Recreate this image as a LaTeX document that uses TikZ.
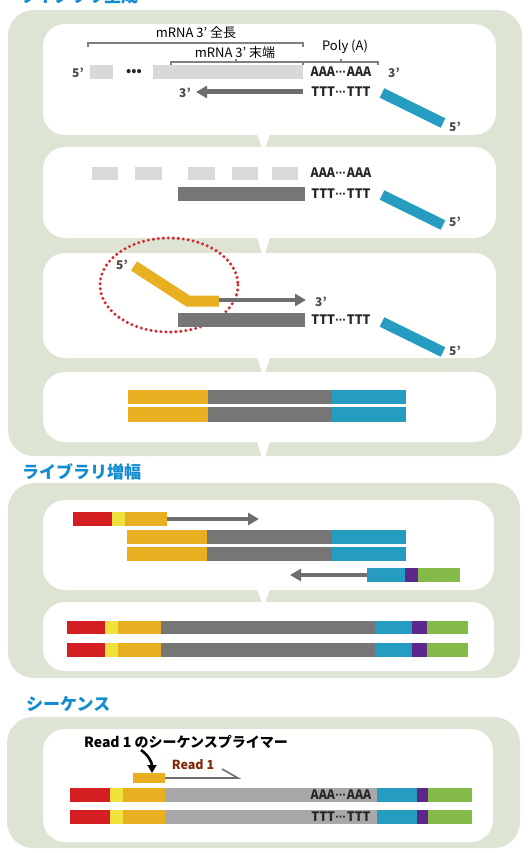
\documentclass[tikz,border=0pt]{standalone}
\usepackage{fontspec}
\setmainfont{Noto Sans CJK JP}
\newfontfamily\latinf{Liberation Sans}
\usetikzlibrary{arrows.meta}
\definecolor{pgreen}{RGB}{222,228,212}
\definecolor{ttlblue}{RGB}{18,140,208}
\definecolor{lgray}{RGB}{217,217,217}
\definecolor{dgray}{RGB}{118,118,118}
\definecolor{mgray}{RGB}{168,168,168}
\definecolor{agray}{RGB}{110,110,110}
\definecolor{tealb}{RGB}{38,156,192}
\definecolor{yel}{RGB}{232,176,32}
\definecolor{lyel}{RGB}{240,226,60}
\definecolor{redc}{RGB}{212,30,34}
\definecolor{purp}{RGB}{92,40,140}
\definecolor{grn}{RGB}{132,186,72}
\definecolor{dotred}{RGB}{214,40,48}
\definecolor{labgray}{RGB}{80,70,70}
\definecolor{brown}{RGB}{130,40,10}
\newcommand\mybar[5]{\fill[#1] (#2,#3) rectangle (#4,#5);}
\newcommand\mydots{{\latinf\bfseries\kern0.3pt·\kern-0.6pt·\kern-0.6pt·\kern0.3pt}}
\tikzset{
  panel/.style={fill=pgreen, rounded corners=26pt},
  inner/.style={fill=white, rounded corners=22pt},
  notch/.style={fill=white},
  ttl/.style={font=\bfseries\fontsize{17}{17}\selectfont, text=ttlblue, inner sep=0pt, anchor=base west},
  lab/.style={font=\fontsize{13}{13}\selectfont, text=black, inner sep=0pt},
  prime/.style={font=\bfseries\fontsize{12}{12}\selectfont, text=labgray, inner sep=0pt},
  seq/.style={font=\bfseries\fontsize{13}{13}\selectfont, text=black!85, inner sep=0pt, xscale=0.95},
  brk/.style={draw=gray, line width=1.1pt},
  strand/.style={line width=#1, draw=agray, -{Triangle[length=11pt,width=12pt]}},
  tealbar/.style={draw=tealb, line width=10.5pt},
}
\begin{document}
\begin{tikzpicture}[x=1pt,y=-1pt]
\useasboundingbox (0,0) rectangle (528,853);
\clip (0,0) rectangle (528,853);
\fill[white] (0,0) rectangle (528,853);

% ---------- titles
\node[ttl] (t1) at (19,3) {ライブラリ生成};
\node[ttl] (t2) at (22,478) {ライブラリ増幅};
\node[ttl] (t3) at (26,710) {シーケンス};

% ---------- panels
\fill[panel] (8,10) rectangle (522,456);
\fill[panel] (8,483) rectangle (520,678);
\fill[panel] (7,717) rectangle (520,848);

\fill[inner] (43,24) rectangle (496,135);
\fill[inner] (43,147) rectangle (496,238);
\fill[inner] (43,253) rectangle (496,358);
\fill[inner] (43,372) rectangle (496,442);
\fill[inner] (43,500) rectangle (494,590);
\fill[inner] (43,602) rectangle (494,671);
\fill[inner] (43,729) rectangle (493,842);

% notches
\foreach \a/\b in {135/147, 238/253, 358/372, 442/457, 590/602}{
  \fill[notch] (257,\a-1) -- (270,\a-1) -- (265,\b+1) -- (262,\b+1) -- cycle;
}

% ---------- panel A
\node[lab] (fl) at (196,33) {mRNA 3’ 全長};
\draw[brk] (88,47) -- (88,43) -- (303,43) -- (303,47);
\node[lab] (te) at (235,53) {mRNA 3’ 末端};
\draw[brk] (171,65) -- (171,62) -- (303,62) -- (303,65);
\draw[brk] (236,62) -- (236,59);
\node[lab] (pa) at (345,47) {Poly (A)};
\draw[brk] (304,62) -- (378,62) -- (378,65);
\draw[brk] (341,62) -- (341,59);

\node[prime] (a5) at (78,73) {5'};
\mybar{lgray}{90}{65}{113}{79}
\node[font=\bfseries\fontsize{13}{13}\selectfont, inner sep=0pt, text=black!85] (adots) at (134,72) {•••};
\mybar{lgray}{153}{65}{303}{79}
\node[seq] (aaa1) at (341,72) {AAA\mydots AAA};
\node[prime] (a3) at (394,73) {3'};
\coordinate (ast) at (303,92);
\coordinate (aen) at (196,92);
\draw[strand=5pt] (ast) -- (aen);
\node[prime] (a3b) at (185,93) {3'};
\node[seq] (ttt1) at (341,92) {TTT\mydots TTT};
\draw[tealbar] (382,93) -- (443,123);
\node[prime] (a5b) at (455,127) {5'};

% ---------- panel B
\foreach \x/\y in {92/118, 135/162, 188/215, 232/258, 272/298}{
  \mybar{lgray}{\x}{167}{\y}{180}
}
\node[seq] (aaa2) at (341,173) {AAA\mydots AAA};
\mybar{dgray}{178}{187}{305}{201}
\node[seq] (ttt2) at (341,194) {TTT\mydots TTT};
\draw[tealbar] (382,195) -- (443,225);
\node[prime] (b5) at (455,222) {5'};

% ---------- panel C
\draw[draw=dotred, line width=3.4pt, line cap=round, dash pattern=on 0pt off 5pt] (169,285) ellipse [x radius=69, y radius=47];
\draw[draw=yel, line width=11pt, line join=miter] (134,266) -- (188,301) -- (219,301);
\node[prime] (c5) at (122,265) {5'};
\coordinate (cst) at (219,300);
\coordinate (cen) at (306,300);
\draw[strand=4pt] (cst) -- (cen);
\node[prime] (c3) at (321,302) {3'};
\mybar{dgray}{178}{313}{305}{327}
\node[seq] (ttt3) at (341,320) {TTT\mydots TTT};
\draw[tealbar] (382,322) -- (443,352);
\node[prime] (c5b) at (455,351) {5'};

% ---------- panel D
\foreach \ya/\yb in {390/404, 407/422}{
  \mybar{yel}{128}{\ya}{208}{\yb}
  \mybar{dgray}{208}{\ya}{332}{\yb}
  \mybar{tealb}{332}{\ya}{406}{\yb}
}

% ---------- panel E
\mybar{redc}{73}{512}{112}{526}
\mybar{lyel}{112}{512}{125}{526}
\mybar{yel}{125}{512}{167}{526}
\coordinate (est) at (167,519);
\coordinate (een) at (259,519);
\draw[strand=4pt] (est) -- (een);
\foreach \ya/\yb in {530/544, 547/561}{
  \mybar{yel}{127}{\ya}{207}{\yb}
  \mybar{dgray}{207}{\ya}{332}{\yb}
  \mybar{tealb}{332}{\ya}{406}{\yb}
}
\coordinate (fst) at (367,575);
\coordinate (fen) at (290,575);
\draw[strand=4pt] (fst) -- (fen);
\mybar{tealb}{367}{568}{405}{582}
\mybar{purp}{405}{568}{418}{582}
\mybar{grn}{418}{568}{460}{582}

% ---------- panel F
\foreach \ya/\yb in {621/634, 643/657}{
  \mybar{redc}{67}{\ya}{105}{\yb}
  \mybar{lyel}{105}{\ya}{118}{\yb}
  \mybar{yel}{118}{\ya}{161}{\yb}
  \mybar{dgray}{161}{\ya}{375}{\yb}
  \mybar{tealb}{375}{\ya}{412}{\yb}
  \mybar{purp}{412}{\ya}{427}{\yb}
  \mybar{grn}{427}{\ya}{468}{\yb}
}

% ---------- panel G
\node[font=\bfseries\fontsize{14}{14}\selectfont, inner sep=0pt] (rp) at (186,742) {Read 1 のシーケンスプライマー};
\coordinate (ps) at (141,750);
\coordinate (pe) at (152,773);
\draw[line width=2.6pt, -{Triangle[length=8pt,width=9pt]}] (ps) .. controls (148,755) and (152,762) .. (pe);
\node[font=\bfseries\fontsize{12.5}{13}\selectfont, text=brown, inner sep=0pt] (r1) at (193,765) {Read 1};
\mybar{yel}{133}{773}{165}{783}
\coordinate (rs) at (165,778);
\coordinate (re) at (238,778);
\draw[draw=agray, line width=1.6pt] (rs) -- (re) -- (222,769);
\foreach \ya/\yb in {788/802, 810/824}{
  \mybar{redc}{70}{\ya}{110}{\yb}
  \mybar{lyel}{110}{\ya}{123}{\yb}
  \mybar{yel}{123}{\ya}{165}{\yb}
  \mybar{mgray}{165}{\ya}{377}{\yb}
  \mybar{tealb}{377}{\ya}{417}{\yb}
  \mybar{purp}{417}{\ya}{428}{\yb}
  \mybar{grn}{428}{\ya}{472}{\yb}
}
\node[seq] (aaa4) at (341,795) {AAA\mydots AAA};
\node[seq] (ttt4) at (341,817) {TTT\mydots TTT};
\end{tikzpicture}
\end{document}
